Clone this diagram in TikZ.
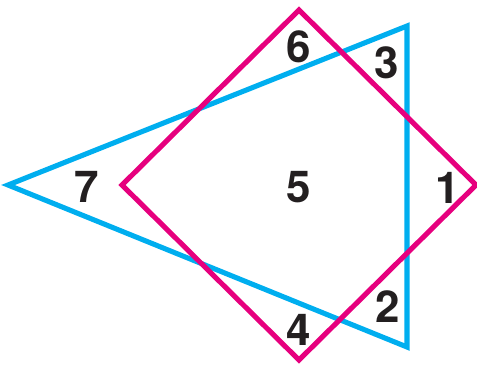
\documentclass[tikz,border=0pt]{standalone}
\usepackage{fontspec}
\setmainfont{TeX Gyre Heros}
\definecolor{tricyan}{HTML}{00AEEF}
\definecolor{sqmag}{HTML}{E6007E}
\definecolor{numblack}{HTML}{231F20}
\tikzset{
  tri/.style={draw=tricyan, line width=2.9pt, line join=miter},
  sq/.style={draw=sqmag, line width=2.9pt, line join=miter},
  num/.style={font=\fontsize{25}{30}\selectfont\bfseries, text=numblack, inner sep=0pt},
}
\begin{document}
\begin{tikzpicture}[x=0.02cm, y=-0.02cm]
  \useasboundingbox (0,0) rectangle (477,365);
  % triangle and square outlines
  \draw[tri] (8,185) -- (407,26) -- (407,347) -- cycle;
  \draw[sq] (299,10) -- (476,185) -- (299,360) -- (122,185) -- cycle;
  % region numbers
  \node[num] (n6) at (299,47) {6};
  \node[num] (n3) at (387,63) {3};
  \node[num] (n7) at (87,187) {7};
  \node[num] (n5) at (299,187) {5};
  \node[num] (n1) at (448,188) {1};
  \node[num] (n2) at (388,307) {2};
  \node[num] (n4) at (299,330) {4};
\end{tikzpicture}
\end{document}
